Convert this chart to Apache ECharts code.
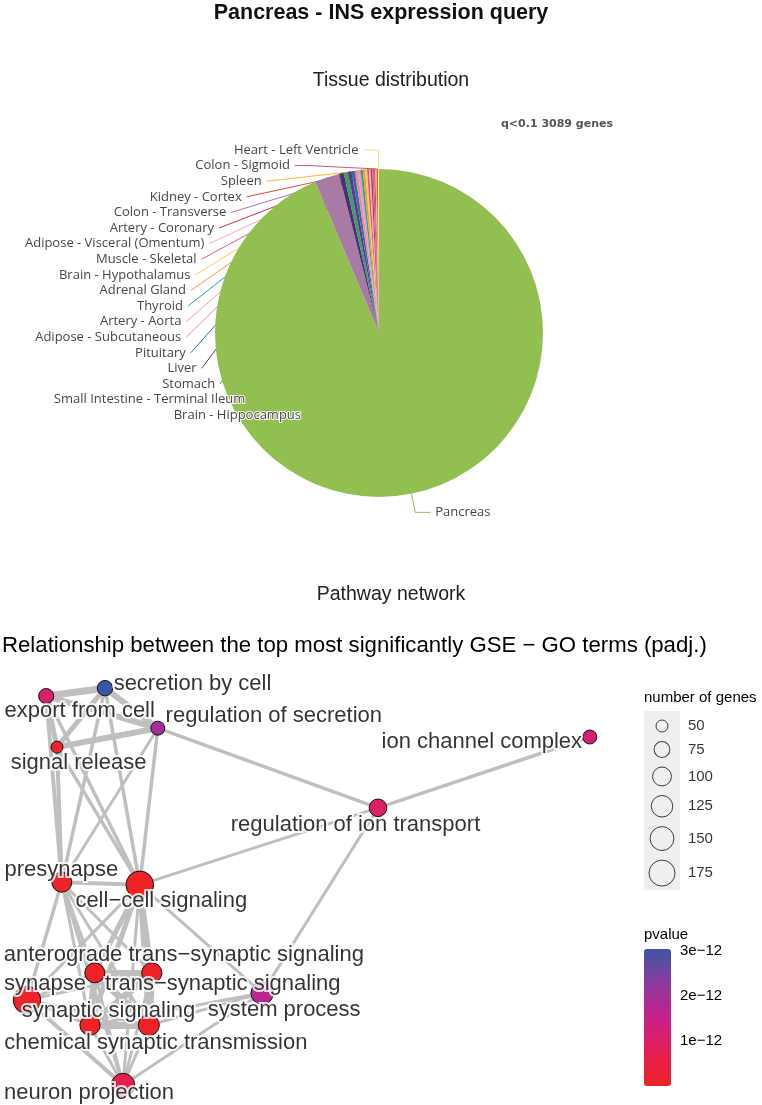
<!DOCTYPE html>
<html><head><meta charset="utf-8">
<script src="https://cdn.jsdelivr.net/npm/echarts@6/dist/echarts.min.js"></script>
<style>html,body{margin:0;padding:0;background:#fff}#c{width:762px;height:1105px}</style>
</head><body><div id="c"></div>
<script>
// ---------- Tissue distribution (pie) ----------
const tissues = ['Pancreas','Brain - Hippocampus','Small Intestine - Terminal Ileum','Stomach','Liver','Pituitary',
  'Adipose - Subcutaneous','Artery - Aorta','Thyroid','Adrenal Gland','Brain - Hypothalamus','Muscle - Skeletal',
  'Adipose - Visceral (Omentum)','Artery - Coronary','Colon - Transverse','Kidney - Cortex','Spleen','Colon - Sigmoid',
  'Heart - Left Ventricle'];
const tissueGenes = [2893,75,14,13,11,10,9,8,7,7,6,6,5,5,5,4,4,4,3];
const tissueColors = ['#92c050','#a77ba3','#4a2f72','#3a9e6a','#5b3a86','#2f6db0','#ee8899','#f39bab','#2aa0b0',
  '#f29a2e','#fbcd3f','#e2587a','#f4a9bb','#c23452','#ae6bc2','#e2483a','#f8b52e','#c9587c','#fddc8a'];

// ---------- Pathway network ----------
const terms = ['export from cell','secretion by cell','regulation of secretion','signal release','ion channel complex',
  'regulation of ion transport','presynapse','cell\u2212cell signaling','anterograde trans\u2212synaptic signaling',
  'trans\u2212synaptic signaling','synapse','system process','synaptic signaling','chemical synaptic transmission',
  'neuron projection'];
const termX = [0.77,1.75,2.63,0.95,9.83,6.30,1.03,2.33,1.58,2.53,0.45,4.37,1.50,2.48,2.05];
const termY = [9.18,9.36,8.45,8.02,8.25,6.64,4.95,4.89,2.89,2.89,2.27,2.43,1.70,1.70,0.34];
const termGenes = [70,72,62,50,62,89,110,195,110,112,190,136,112,120,145];
const termPvalue = [1.1e-12,3.04e-12,2.0e-12,0.08e-12,1.2e-12,0.95e-12,0.08e-12,0.03e-12,0.05e-12,0.05e-12,
  0.12e-12,1.7e-12,0.05e-12,0.05e-12,0.6e-12];
const edgeFrom = [0,0,0,1,1,3, 0,0,1,1,2,2,3,3, 2,5,5,5,
  6,6,6,6,6,6,6, 7,7,7,7,7,7,7, 8,8,8,9,9,12, 10,10,10,10,10, 14,14,14,14, 11,11,11];
const edgeTo   = [1,2,3,2,3,2, 6,7,6,7,6,7,6,7, 5,4,7,11,
  7,10,8,9,12,13,14, 8,9,12,13,10,14,11, 9,12,13,12,13,13, 8,9,12,13,14, 8,9,12,13, 12,13,14];
const edgeWeight=[7,6,5,6,5,6, 4,3.5,3.5,3.5,3,3.5,4,3.5, 3.5,3.5,3,3,
  4,3.5,3,3,3,3,3.5, 5,5,5,5,3,3,3, 7,7,7,7,7,7, 3,3,3,3,4, 3,3,3,3, 3,3,3];
const sizeBreaks = [50,75,100,125,150,175];
const pvalueTicks = [1e-12,2e-12,3e-12];
const pvalueMax = 3.04e-12;

// label placement (style, kept apart from data)
const labelOffset = {
  'export from cell':[33.5,15], 'secretion by cell':[87.5,-4.5], 'regulation of secretion':[116,-12.5],
  'signal release':[21.5,15.5], 'ion channel complex':[-108,4.5], 'regulation of ion transport':[-22.5,17],
  'presynapse':[-0.5,-12], 'cell\u2212cell signaling':[21.5,16], 'anterograde trans\u2212synaptic signaling':[89,-18],
  'trans\u2212synaptic signaling':[71,11], 'synapse':[18,-16], 'system process':[22,17], 'synaptic signaling':[18.5,-14],
  'chemical synaptic transmission':[7,18], 'neuron projection':[-34,8]
};

function nodeSize(n){ return 2*Math.sqrt(Math.max(1.064*n-17.2,4)); }

const chart = echarts.init(document.getElementById('c'), null, {renderer:'canvas'});

// legend key stacking derived from key sizes
const keyGap = 9.6;
let acc = 15, keyPos = [];
sizeBreaks.forEach((b,i)=>{ if(i>0) acc += (nodeSize(sizeBreaks[i-1])+nodeSize(b))/2 + keyGap; keyPos.push(acc); });

const pieData = tissues.map((t,i)=>({name:t, value:tissueGenes[i], itemStyle:{color:tissueColors[i]}}));
const nodes = terms.map((t,i)=>({name:t, value:[termX[i],termY[i]]}));
const links = edgeFrom.map((f,i)=>({source:terms[f], target:terms[edgeTo[i]], lineStyle:{width:edgeWeight[i]}}));
const nodeData = terms.map((t,i)=>[termX[i],termY[i],termGenes[i],termPvalue[i],t]);
const labelData = terms.map((t,i)=>({value:[termX[i],termY[i]], name:t,
  label:{show:true, position:'inside', offset:labelOffset[t], formatter:t}}));

const ff = '"Liberation Sans", Arial, sans-serif';
const option = {
  animation:false,
  backgroundColor:'#fff',
  title:[
    {text:'Pancreas - INS expression query', left:381, textAlign:'center', top:2, padding:0,
      textStyle:{fontFamily:ff, fontSize:21.5, fontWeight:'bold', color:'#111'}},
    {text:'Tissue distribution', left:391, textAlign:'center', top:71, padding:0,
      textStyle:{fontFamily:ff, fontSize:19.5, fontWeight:'normal', color:'#222'}},
    {text:'q<0.1 3089 genes', right:149, top:119, padding:0,
      textStyle:{fontFamily:'"DejaVu Sans", sans-serif', fontSize:11, fontWeight:'bold', color:'#555'}},
    {text:'Pathway network', left:391, textAlign:'center', top:585, padding:0,
      textStyle:{fontFamily:ff, fontSize:19.5, fontWeight:'normal', color:'#222'}},
    {text:'Relationship between the top most significantly GSE \u2212 GO terms (padj.)', left:2, top:635, padding:0,
      textStyle:{fontFamily:ff, fontSize:22.2, fontWeight:'normal', color:'#000'}},
    {text:'number of genes', left:644, top:690, padding:0,
      textStyle:{fontFamily:ff, fontSize:15, fontWeight:'normal', color:'#000'}},
    {text:'pvalue', left:644, top:927, padding:0,
      textStyle:{fontFamily:ff, fontSize:15, fontWeight:'normal', color:'#000'}}
  ],
  grid:[
    {left:0, top:660, width:600, height:440, show:false},
    {left:644, top:711, width:36, height:179, show:true, backgroundColor:'#efefef', borderWidth:0},
    {left:644, top:949, width:27, height:137, show:false}
  ],
  xAxis:[
    {gridIndex:0, type:'value', min:0, max:10, show:false},
    {gridIndex:1, type:'value', min:0, max:1, show:false},
    {gridIndex:2, type:'value', min:0, max:1, show:false}
  ],
  yAxis:[
    {gridIndex:0, type:'value', min:0, max:10, show:false},
    {gridIndex:1, type:'value', min:0, max:179, inverse:true, show:false},
    {gridIndex:2, type:'value', min:0, max:pvalueMax, position:'right',
      axisLine:{show:false}, splitLine:{show:false},
      axisTick:{show:true, inside:true, length:5, lineStyle:{color:'#fff', width:1}, customValues:pvalueTicks},
      axisLabel:{show:true, margin:9, fontFamily:ff, fontSize:15, color:'#000', customValues:pvalueTicks,
        formatter:v=>Math.round(v*1e12)+'e\u221212'}},
    {gridIndex:2, type:'value', min:0, max:pvalueMax, position:'left',
      axisLine:{show:false}, splitLine:{show:false},
      axisTick:{show:true, inside:true, length:5, lineStyle:{color:'#fff', width:1}, customValues:pvalueTicks},
      axisLabel:{show:false}}
  ],
  visualMap:[{
    type:'continuous', seriesIndex:2, dimension:3, min:0, max:pvalueMax,
    left:644, top:949, itemWidth:27, itemHeight:137, calculable:false, hoverLink:false, text:null, padding:0,
    inRange:{color:['#ef2224','#e41f55','#c7208c','#8d3a9e','#3c55a6']},
    textStyle:{color:'transparent'}
  }],
  series:[
    {type:'pie', center:[379,333], radius:164, startAngle:90, clockwise:true,
      data:pieData, avoidLabelOverlap:true,
      label:{show:true, fontFamily:'"Open Sans", "Noto Sans", sans-serif', fontSize:13, color:'#474747',
        textBorderColor:'#fff', textBorderWidth:2, lineHeight:13.6, minMargin:0.6},
      labelLine:{show:true, length:19, length2:15, lineStyle:{width:1}},
      itemStyle:{borderWidth:0}, emphasis:{disabled:true}},
    {type:'graph', coordinateSystem:'cartesian2d', xAxisIndex:0, yAxisIndex:0, z:1,
      data:nodes, links:links, symbolSize:0, label:{show:false},
      lineStyle:{color:'#bfbfbf', opacity:1, curveness:0}, emphasis:{disabled:true}},
    {type:'scatter', xAxisIndex:0, yAxisIndex:0, z:2, clip:false,
      data:nodeData, symbolSize:v=>nodeSize(v[2]),
      itemStyle:{borderColor:'#111', borderWidth:1, opacity:1}, emphasis:{disabled:true}},
    {type:'scatter', xAxisIndex:0, yAxisIndex:0, z:3, clip:false, symbolSize:0,
      data:labelData,
      label:{fontFamily:ff, fontSize:22, color:'#fff', textBorderColor:'#fff', textBorderWidth:4},
      emphasis:{disabled:true}},
    {type:'scatter', xAxisIndex:0, yAxisIndex:0, z:4, clip:false, symbolSize:0,
      data:labelData,
      label:{fontFamily:ff, fontSize:22, color:'#000', textBorderColor:'transparent', textBorderWidth:0},
      emphasis:{disabled:true}},
    {type:'scatter', xAxisIndex:1, yAxisIndex:1, z:2, clip:false,
      data:sizeBreaks.map((b,i)=>[0.5,keyPos[i],b]), symbolSize:v=>nodeSize(v[2]),
      itemStyle:{color:'rgba(0,0,0,0)', borderColor:'#111', borderWidth:1}, emphasis:{disabled:true}},
    {type:'scatter', xAxisIndex:1, yAxisIndex:1, z:2, clip:false, symbolSize:0,
      data:sizeBreaks.map((b,i)=>[1.22,keyPos[i],b]),
      label:{show:true, position:'right', distance:0, fontFamily:ff, fontSize:15, color:'#000',
        formatter:p=>String(p.value[2])}, emphasis:{disabled:true}}
  ]
};
chart.setOption(option);
</script></body></html>
